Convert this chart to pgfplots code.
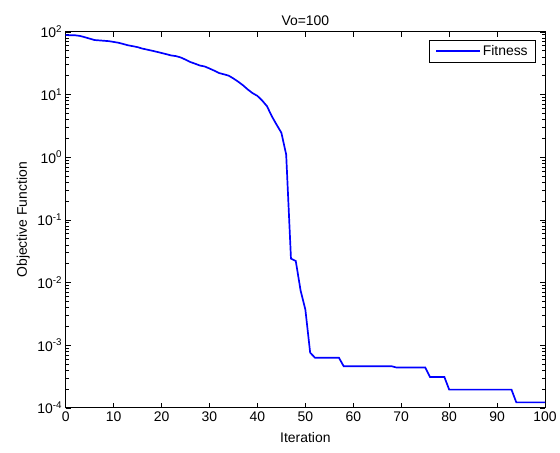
\documentclass[border=0pt]{standalone}
\usepackage{pgfplots}
\pgfplotsset{compat=1.18}
\usepackage{fontspec}
\setmainfont{Liberation Sans}
\begin{document}
\begin{tikzpicture}[x=1pt,y=1pt]
\begin{axis}[
  scale only axis,
  width=482pt, height=378pt,
  xmin=0, xmax=100,
  ymode=log, ymin=1e-4, ymax=1e2,
  xtick={0,10,...,100},
  ytick={1e-4,1e-3,1e-2,1e-1,1,10,100},
  tick align=inside,
  tick pos=both,
  axis line style={line width=0.8pt},
  major tick length=5pt,
  minor tick length=3pt,
  every tick/.style={black,line width=0.5pt},
  font=\fontsize{14}{16}\selectfont,
  tick label style={font=\fontsize{14}{16}\selectfont},
  /pgf/number format/assume math mode=true,
  yticklabel={\pgfmathparse{int(\tick/ln(10)+ (\tick<0 ? -0.5 : 0.5))}10\textsuperscript{\pgfmathresult}},
  title={Vo=100},
  title style={yshift=-3pt},
  xlabel={Iteration},
  ylabel={Objective Function},
  xlabel style={yshift=-4pt},
  ylabel style={yshift=1pt},
  legend style={at={(0.981,0.979)},anchor=north east,draw=black,line width=0.6pt,
    font=\fontsize{14}{16}\selectfont, inner xsep=6pt, inner ysep=3.5pt},
  legend cell align=left,
  legend image code/.code={\draw[#1] (0pt,0pt) -- (44pt,0pt);},
]
\addplot[color=blue, line width=1.7pt] coordinates {
(0,89) (1,88) (2,88) (3,86) (4,82) (5,78) (6,74) (7,73) (8,72) (9,71)
(10,69) (11,67) (12,64) (13,61) (14,59) (15,57) (16,54) (17,52) (18,50) (19,48)
(20,46) (21,44) (22,42) (23,41) (24,39) (25,36) (26,33) (27,31) (28,29) (29,28)
(30,26) (31,24) (32,22) (33,21) (34,20) (35,18) (36,16) (37,14) (38,12) (39,10.5)
(40,9.5) (41,8) (42,6.5) (43,4.5) (44,3.3) (45,2.45) (46,1.1) (47,0.024) (48,0.022) (49,0.0075)
(50,0.0037) (51,0.00076) (52,0.00063) (53,0.00063) (54,0.00063) (55,0.00063) (56,0.00063) (57,0.00063) (58,0.00046) (59,0.00046)
(60,0.00046) (61,0.00046) (62,0.00046) (63,0.00046) (64,0.00046) (65,0.00046) (66,0.00046) (67,0.00046) (68,0.00046) (69,0.00044)
(70,0.00044) (71,0.00044) (72,0.00044) (73,0.00044) (74,0.00044) (75,0.00044) (76,0.00031) (77,0.00031) (78,0.00031) (79,0.00031)
(80,0.000195) (81,0.000195) (82,0.000195) (83,0.000195) (84,0.000195) (85,0.000195) (86,0.000195) (87,0.000195) (88,0.000195) (89,0.000195)
(90,0.000195) (91,0.000195) (92,0.000195) (93,0.000195) (94,0.000122) (95,0.000122) (96,0.000122) (97,0.000122) (98,0.000122) (99,0.000122)
(100,0.000122)
};
\addlegendentry{Fitness}
\end{axis}
\path ([xshift=-66pt,yshift=-45pt]current axis.south west) rectangle ([xshift=12pt,yshift=32pt]current axis.north east);
\end{tikzpicture}
\end{document}
